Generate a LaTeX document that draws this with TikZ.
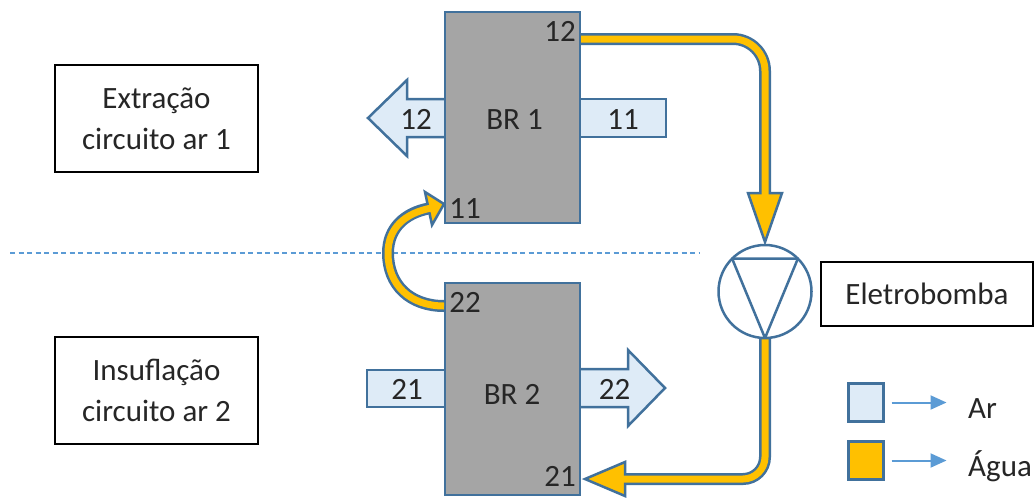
\documentclass[tikz,border=0pt]{standalone}
\usepackage{fontspec}
\setmainfont{Carlito}
\usetikzlibrary{arrows.meta,calc}
\definecolor{bordc}{HTML}{41719C}
\definecolor{lblue}{HTML}{DEEBF7}
\definecolor{yel}{HTML}{FFC000}
\definecolor{grayf}{HTML}{A5A5A5}
\definecolor{dashc}{HTML}{5B9BD5}
\definecolor{txtc}{HTML}{262626}
\begin{document}
\begin{tikzpicture}[x=1pt,y=-1pt,
  lbl/.style={text=txtc, font=\fontsize{31}{41}\selectfont, inner sep=0pt},
  brbox/.style={draw=bordc, fill=grayf, line width=2.5pt, outer sep=0pt, inner sep=0pt, minimum width=135pt},
  airarrow/.style={draw=bordc, fill=lblue, line width=2.5pt, line join=miter},
  pipeo/.style={draw=bordc, line width=12pt},
  pipei/.style={draw=yel, line width=7pt},
  pipehead/.style={draw=bordc, fill=yel, line width=2.5pt, line join=miter},
  tbox/.style={draw=black, line width=1.5pt, text=txtc, font=\fontsize{31}{41}\selectfont, align=center, inner sep=0pt, outer sep=0pt},
  legsq/.style={draw=bordc, line width=2.5pt, minimum width=35pt, minimum height=38pt, inner sep=0pt, outer sep=0pt},
  legarr/.style={draw=dashc, line width=2pt, -{Triangle[length=16pt,width=14pt]}}
]
\useasboundingbox (0,0) rectangle (1035,498);
\fill[white] (0,0) rectangle (1035,498);

% divider
\coordinate (dvL) at (10,253);
\coordinate (dvR) at (700,253);
\draw[dashc, line width=1.3pt, dash pattern=on 5pt off 3.5pt] (dvL) -- (dvR);

% air arrows
\draw[airarrow] (446,99) -- (407,99) -- (407,80) -- (368,118) -- (407,156) -- (407,137) -- (446,137) -- cycle;
\draw[airarrow] (579,99) rectangle (666,137);
\draw[airarrow] (367,370) rectangle (446,407);
\draw[airarrow] (579,369) -- (628,369) -- (628,350) -- (665,388) -- (628,426) -- (628,407) -- (579,407) -- cycle;

% recuperators
\node[brbox, minimum height=211pt] (br1) at (512.5,117.5) {};
\node[brbox, minimum height=212pt] (br2) at (512.5,389) {};

\node[lbl] (br1t) at (514.5,120) {BR 1};
\node[lbl] (br2t) at (512,394.5) {BR 2};
\node[lbl] (p12) at (560,31.5) {12};
\node[lbl] (p11) at (465,209) {11};
\node[lbl] (p22) at (465,302) {22};
\node[lbl] (p21) at (560,476) {21};
\node[lbl] (a12) at (416,119) {12};
\node[lbl] (a11) at (623,119.5) {11};
\node[lbl] (a21) at (407,389) {21};
\node[lbl] (a22) at (614.5,389.5) {22};

% pump
\node[circle, draw=bordc, fill=white, line width=2.5pt, minimum size=93pt, inner sep=0pt, outer sep=0pt] (pump) at (765,291.5) {};
\draw[bordc, line width=2.5pt, line join=round] (pump.135) -- (pump.45) -- (pump.south) -- cycle;

% top water pipe
\coordinate (t1) at ($(br1.north east)+(1,27)$);
\coordinate (t1h) at ($(pump.north)+(0,-52)$);
\draw[pipeo, rounded corners=32pt] (t1) -| (t1h);
\draw[pipehead] ($(t1h)+(-17,0)$) -- ($(t1h)+(17,0)$) -- ($(pump.north)+(0,-3)$) -- cycle;
\draw[pipei, rounded corners=32pt] (t1) -| ($(t1h)+(0,3)$);

% bottom water pipe
\coordinate (b1h) at ($(br2.south east)+(45,-16)$);
\coordinate (b1t) at ($(br2.south east)+(5,-16)$);
\draw[pipeo, rounded corners=22pt] (pump.south) |- (b1h);
\draw[pipehead] ($(b1h)+(0,-17)$) -- ($(b1h)+(0,17)$) -- (b1t) -- cycle;
\draw[pipei, rounded corners=22pt] ($(pump.south)+(0,1.3)$) |- ($(b1h)+(-3,0)$);

% curved water pipe
\coordinate (c1) at ($(br2.north west)+(-1,23)$);
\coordinate (c1h) at (428.5,208.5);
\coordinate (c1t) at ($(br1.south west)+(-1,-19)$);
\draw[pipeo] (c1) .. controls (410,306) and (388,285) .. (388,253) .. controls (388,228) and (405,213) .. (c1h);
\draw[pipehead] (425,192) -- (c1t) -- (432,225) -- cycle;
\draw[pipei] (c1) .. controls (410,306) and (388,285) .. (388,253) .. controls (388,228) and (405,213) .. (431.5,208);

% text boxes
\node[tbox, minimum width=203pt, minimum height=107pt] (ext) at (156.5,118.5) {Extração\\circuito ar 1};
\node[tbox, minimum width=203pt, minimum height=107pt] (ins) at (156.5,390.5) {Insuflação\\circuito ar 2};
\node[tbox, minimum width=212pt, minimum height=64pt] (elet) at (927,294) {Eletrobomba};

% legend
\node[legsq, fill=lblue] (sqA) at (866,402.5) {};
\node[legsq, fill=yel] (sqW) at (866,460.5) {};
\draw[legarr] ([xshift=8pt]sqA.east) -- ([xshift=63pt]sqA.east);
\draw[legarr] ([xshift=8pt]sqW.east) -- ([xshift=63pt]sqW.east);
\node[lbl, anchor=base west] (txA) at (968,418) {Ar};
\node[lbl, anchor=base west] (txW) at (968,476) {Água};
\end{tikzpicture}
\end{document}
